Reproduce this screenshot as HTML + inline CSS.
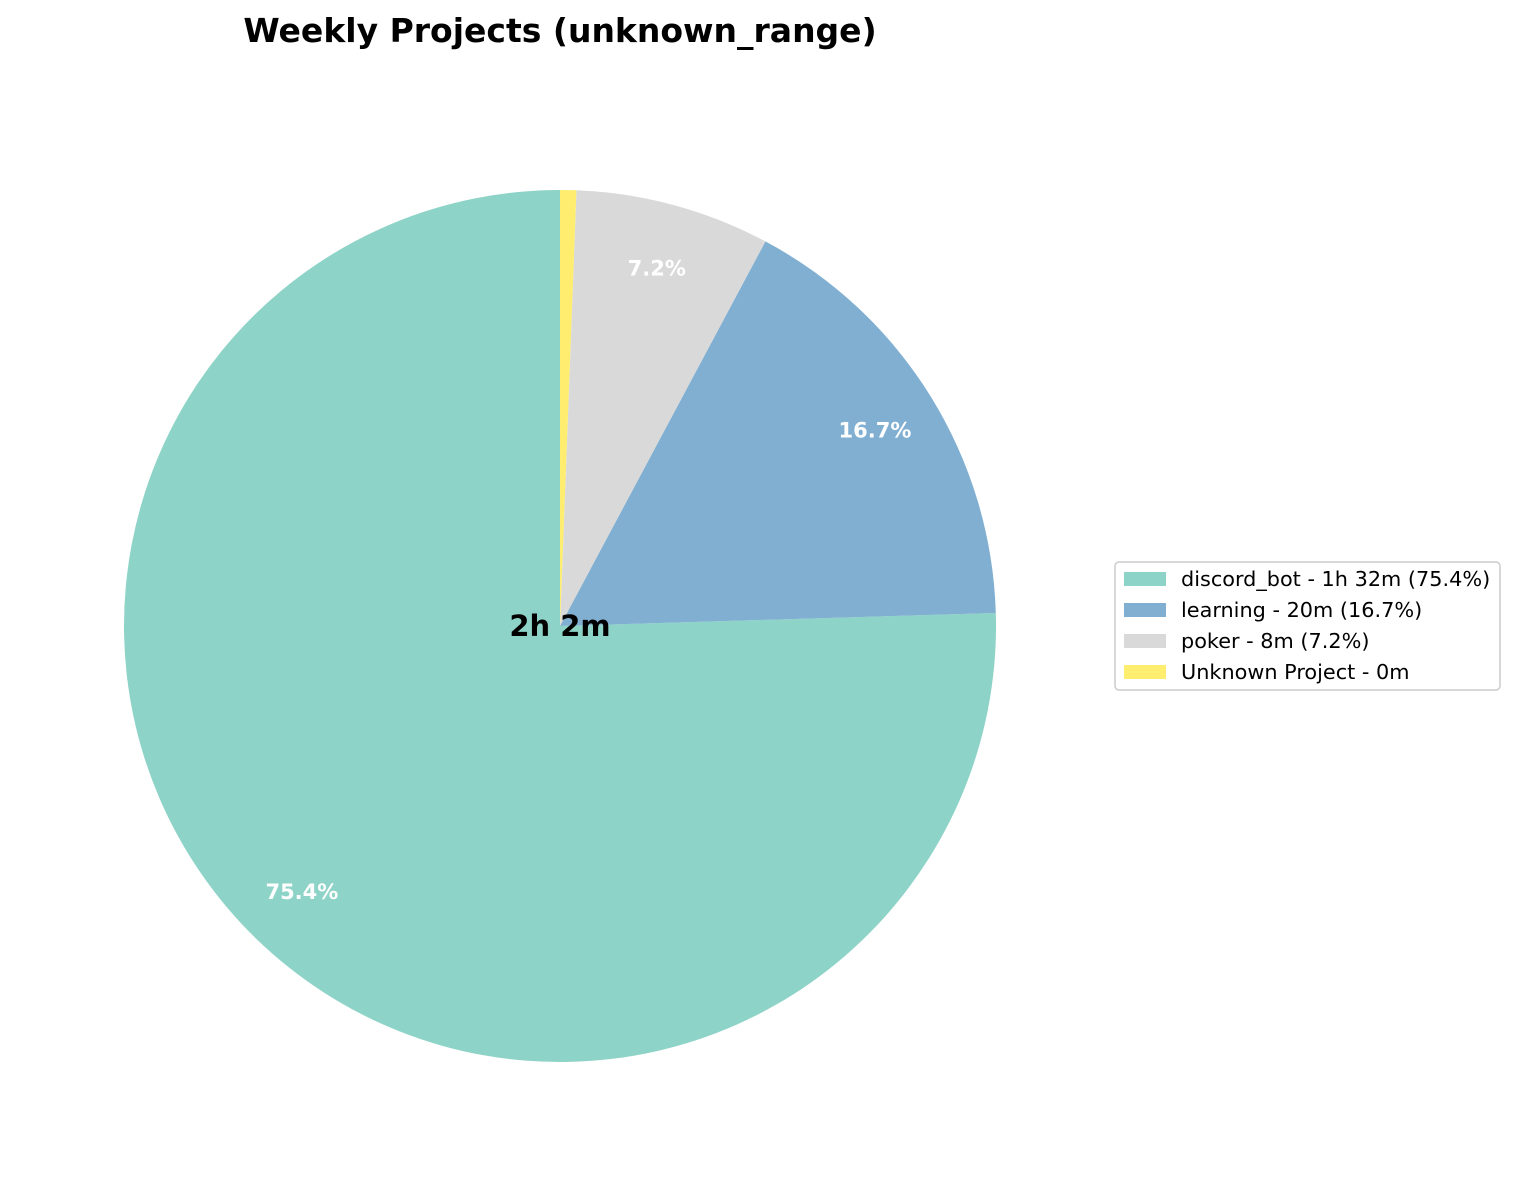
<!DOCTYPE html>
<html><head><meta charset="utf-8"><style>
body{margin:0;background:#fff;}
svg{display:block;font-family:"DejaVu Sans","Liberation Sans",sans-serif;}
</style></head><body>
<svg id="chart" width="1514" height="1186" viewBox="0 0 1514 1186">
<text x="560" y="42" text-anchor="middle" font-size="33" font-weight="bold" fill="#000">Weekly Projects (unknown_range)</text>
<g id="slices"></g>
<g id="pcts"></g>
<text x="560" y="636" text-anchor="middle" font-size="29" font-weight="bold" fill="#000">2h 2m</text>
<g id="legend">
<rect x="1115" y="562" width="385" height="128" rx="4" fill="#fff" stroke="#ccc" stroke-width="1.5"></rect>
</g>
</svg>
<script>
const categories = ["discord_bot", "learning", "poker", "Unknown Project"];
const values = [75.4, 16.7, 7.2, 0.6];
const pctLabels = ["75.4%", "16.7%", "7.2%", ""];
const legendLabels = ["discord_bot - 1h 32m (75.4%)", "learning - 20m (16.7%)", "poker - 8m (7.2%)", "Unknown Project - 0m"];
const colors = ["#8dd3c7", "#80afd2", "#d9d9d9", "#ffed6f"];

const NS = "http://www.w3.org/2000/svg";
const cx = 560, cy = 626, r = 436;
const total = values.reduce((a, b) => a + b, 0);
const sl = document.getElementById('slices');
const pg = document.getElementById('pcts');
const lg = document.getElementById('legend');
let ang = 90;
function pt(a, rad) { const t = a * Math.PI / 180; return [cx + rad * Math.cos(t), cy - rad * Math.sin(t)]; }
values.forEach((v, i) => {
  const sweep = v / total * 360;
  const a0 = ang, a1 = ang + sweep;
  const p0 = pt(a0, r), p1 = pt(a1, r);
  const large = sweep > 180 ? 1 : 0;
  const path = document.createElementNS(NS, 'path');
  path.setAttribute('d', `M${cx},${cy} L${p0[0]},${p0[1]} A${r},${r} 0 ${large} 0 ${p1[0]},${p1[1]} Z`);
  path.setAttribute('fill', colors[i]);
  
  
  sl.appendChild(path);
  if (pctLabels[i]) {
    const m = pt((a0 + a1) / 2, r * 0.85);
    const t = document.createElementNS(NS, 'text');
    t.setAttribute('x', m[0]); t.setAttribute('y', m[1] + 7);
    t.setAttribute('text-anchor', 'middle');
    t.setAttribute('font-size', '21'); t.setAttribute('font-weight', 'bold'); t.setAttribute('fill', '#fff');
    t.textContent = pctLabels[i];
    
    
    pg.appendChild(t);
  }
  ang = a1;
});
legendLabels.forEach((l, i) => {
  const y = 579 + i * 31;
  const rc = document.createElementNS(NS, 'rect');
  rc.setAttribute('x', 1124); rc.setAttribute('y', y - 7); rc.setAttribute('width', 42); rc.setAttribute('height', 14);
  rc.setAttribute('fill', colors[i]);
  
  
  lg.appendChild(rc);
  const t = document.createElementNS(NS, 'text');
  t.setAttribute('x', 1181); t.setAttribute('y', y + 7);
  t.setAttribute('font-size', '20.8'); t.setAttribute('fill', '#000');
  t.textContent = l;
  
  
  lg.appendChild(t);
});
</script>
</body></html>
